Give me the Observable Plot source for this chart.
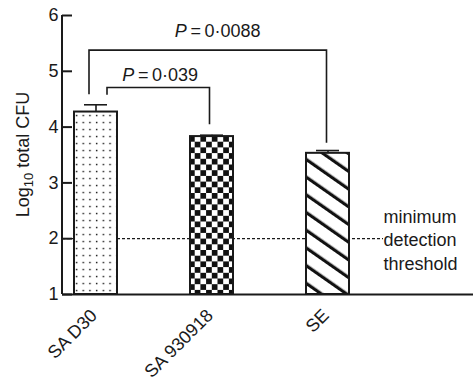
<!DOCTYPE html>
<html>
<head>
<meta charset="utf-8">
<script src="https://cdn.jsdelivr.net/npm/d3@7"></script>
<script src="https://cdn.jsdelivr.net/npm/@observablehq/plot@0.6"></script>
<style>
  html, body { margin: 0; padding: 0; background: #fff; }
  #chart svg { display: block; }
</style>
</head>
<body>
<div id="chart"></div>
<script>
// ---- data ----
const strains = ["SA D30", "SA 930918", "SE"];
const meanLog = [4.27, 3.83, 3.53];
const errLog = [0.13, 0.025, 0.05];
const patternIds = ["pDots", "pCheck", "pStripe"];
const yTicks = [1, 2, 3, 4, 5, 6];
const threshold = 2;
const thresholdLabel = "minimum\ndetection\nthreshold";
// comparisons: from, to, bracket top, leg bottoms, p-value text
const compFrom = ["SA D30", "SA D30"];
const compTo = ["SE", "SA 930918"];
const compTop = [5.37, 4.70];
const compFromLeg = [4.58, 4.57];
const compToLeg = [3.71, 4.04];
const compP = ["0·0088", "0·039"];

const bars = strains.map((s, i) => ({name: s, value: meanLog[i], err: errLog[i], pat: patternIds[i]}));
const comps = compFrom.map((f, i) => ({from: f, to: compTo[i], top: compTop[i], fromLeg: compFromLeg[i], toLeg: compToLeg[i], p: compP[i]}));

const FONT = "Liberation Sans, Arial, Helvetica, sans-serif";
const INK = "#1a1a1a";
const FS = 18;
const W = 473, H = 382;

function defsMark() {
  const defs = d3.create("svg:defs");
  const dots = defs.append("pattern").attr("id", "pDots").attr("patternUnits", "userSpaceOnUse")
    .attr("width", 6.7).attr("height", 7).attr("x", 73).attr("y", 0);
  dots.append("rect").attr("width", 6.7).attr("height", 7).attr("fill", "#fff");
  dots.append("rect").attr("x", 2.8).attr("y", 2.8).attr("width", 1.5).attr("height", 1.5).attr("fill", "#222");
  const chk = defs.append("pattern").attr("id", "pCheck").attr("patternUnits", "userSpaceOnUse")
    .attr("width", 11.4).attr("height", 11.4).attr("x", 189).attr("y", 136);
  chk.append("rect").attr("width", 11.4).attr("height", 11.4).attr("fill", "#fff");
  chk.append("rect").attr("width", 5.7).attr("height", 5.7).attr("fill", "#111");
  chk.append("rect").attr("x", 5.7).attr("y", 5.7).attr("width", 5.7).attr("height", 5.7).attr("fill", "#111");
  const st = defs.append("pattern").attr("id", "pStripe").attr("patternUnits", "userSpaceOnUse")
    .attr("width", 14.5).attr("height", 20).attr("patternTransform", "rotate(-55)");
  st.append("rect").attr("width", 14.5).attr("height", 20).attr("fill", "#fff");
  st.append("rect").attr("x", 0).attr("width", 3.2).attr("height", 20).attr("fill", "#111");
  return defs.node();
}

function yAxisLine(index, scales, values, dims) {
  const g = d3.create("svg:g");
  g.append("line").attr("x1", dims.marginLeft).attr("x2", dims.marginLeft)
    .attr("y1", scales.y(1)).attr("y2", scales.y(6))
    .attr("stroke", INK).attr("stroke-width", 2);
  return g.node();
}

function yLabel(index, scales, values, dims) {
  const cy = (scales.y(1) + scales.y(6)) / 2;
  const t = d3.create("svg:text")
    .attr("transform", `translate(29,${cy}) rotate(-90)`)
    .attr("text-anchor", "middle").attr("font-family", FONT).attr("font-size", FS).attr("fill", INK);
  t.append("tspan").text("Log");
  t.append("tspan").attr("font-size", 13).attr("dy", 4).text("10");
  t.append("tspan").attr("dy", -4).text(" total CFU");
  return t.node();
}

function brackets(index, scales, values, dims) {
  const x = scales.x, y = scales.y, bw = x.bandwidth();
  const fromOff = [-6.5, 11.5], toOff = [-1, -2];
  const txtOff = [10, 2], txtRise = [12.7, 7];
  const g = d3.create("svg:g");
  comps.forEach((c, i) => {
    const x1 = x(c.from) + bw / 2 + fromOff[i];
    const x2 = x(c.to) + bw / 2 + toOff[i];
    g.append("path")
      .attr("d", `M${x1},${y(c.fromLeg)}V${y(c.top)}H${x2}V${y(c.toLeg)}`)
      .attr("fill", "none").attr("stroke", INK).attr("stroke-width", 1.6);
    const t = g.append("text")
      .attr("x", (x1 + x2) / 2 + txtOff[i]).attr("y", y(c.top) - txtRise[i])
      .attr("text-anchor", "middle").attr("font-family", FONT).attr("font-size", FS).attr("fill", INK);
    t.append("tspan").attr("font-style", "italic").text("P");
    t.append("tspan").text("\u2009=\u2009" + c.p);
  });
  return g.node();
}

const chart = Plot.plot({
  width: W,
  height: H,
  marginLeft: 62,
  marginRight: 0,
  marginTop: 15,
  marginBottom: 88,
  style: {fontFamily: FONT, fontSize: FS + "px", color: INK, background: "#fff"},
  x: {domain: strains, range: [62, 360], paddingInner: 0.63, paddingOuter: 0.095},
  y: {domain: [1, 6]},
  marks: [
    defsMark,
    Plot.ruleY([threshold], {stroke: INK, strokeWidth: 1.3, strokeDasharray: "3,2", insetRight: 90}),
    Plot.barY(bars.slice(0, 1), {x: "name", y1: 1, y2: "value", fill: "url(#pDots)", stroke: INK, strokeWidth: 2}),
    Plot.barY(bars.slice(1, 2), {x: "name", y1: 1, y2: "value", fill: "url(#pCheck)", stroke: INK, strokeWidth: 2}),
    Plot.barY(bars.slice(2, 3), {x: "name", y1: 1, y2: "value", fill: "url(#pStripe)", stroke: INK, strokeWidth: 2}),
    Plot.ruleX(bars, {x: "name", y1: "value", y2: d => d.value + d.err, stroke: INK, strokeWidth: 1.6}),
    Plot.tickY(bars, {x: "name", y: d => d.value + d.err, stroke: INK, strokeWidth: 1.6, insetLeft: 10, insetRight: 10}),
    Plot.ruleY([1], {stroke: INK, strokeWidth: 2}),
    yAxisLine,
    Plot.axisY({ticks: yTicks, tickSize: -10, tickPadding: 14, tickFormat: d3.format("d"), label: null, fontSize: FS, stroke: INK, strokeWidth: 2}),
    Plot.axisX({tickRotate: -45, tickSize: 0, tickPadding: 18, dx: -2, label: null, fontSize: FS}),
    yLabel,
    brackets,
    Plot.text([threshold], {y: d => d, text: () => thresholdLabel, frameAnchor: "right", textAnchor: "start", dx: -90, lineHeight: 1.3, fontSize: FS, fill: INK})
  ]
});
document.getElementById("chart").appendChild(chart);
</script>
</body>
</html>
